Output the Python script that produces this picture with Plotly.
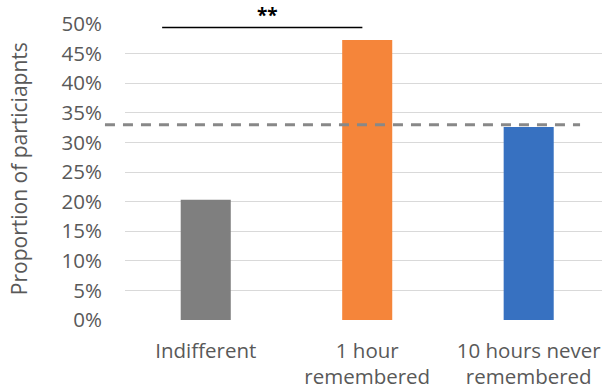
import plotly.graph_objects as go

categories = ["Indifferent", "1 hour<br>remembered", "10 hours never<br>remembered"]
values = [20.3, 47.3, 32.6]
colors = ["#7F7F7F", "#F5853A", "#3771C1"]
chance_level = 33.0
sig_level = 49.4
sig_label = "**"
y_ticks = list(range(0, 55, 5))
y_ticktext = [f"{t}%" for t in y_ticks]

fig = go.Figure()
fig.add_trace(go.Bar(
    x=[0, 1, 2], y=values, marker=dict(color=colors, line=dict(width=0)),
    width=0.31, showlegend=False, hoverinfo="skip",
))

font_family = "Open Sans, Lato, sans-serif"
fig.update_layout(
    width=602, height=390,
    margin=dict(l=125, r=0, t=24, b=70, autoexpand=False),
    paper_bgcolor="white", plot_bgcolor="white",
    font=dict(family=font_family, color="#595959", size=18),
    xaxis=dict(
        range=[-0.5, 2.454], tickmode="array", tickvals=[0, 1, 2], ticktext=categories,
        showgrid=False, zeroline=False, showline=False, ticks="", automargin=False,
        tickfont=dict(size=20.5, color="#595959"), ticklabelstandoff=16,
    ),
    yaxis=dict(
        range=[0, 50], tickmode="array", tickvals=y_ticks, ticktext=y_ticktext,
        showgrid=True, gridcolor="#D9D9D9", gridwidth=1, zeroline=False, showline=False,
        ticks="", tickfont=dict(size=20.5, color="#595959"), ticklabelstandoff=22, automargin=False,
    ),
    shapes=[
        dict(type="line", xref="paper", yref="y", x0=-0.042, x1=0.954, y0=chance_level, y1=chance_level,
             line=dict(color="#888888", width=3, dash="10px,8px")),
        dict(type="line", xref="x", yref="y", x0=-0.27, x1=0.97, y0=sig_level, y1=sig_level,
             line=dict(color="black", width=1.5)),
    ],
    annotations=[
        dict(text=f"<b>{sig_label}</b>", x=0.38, y=sig_level, xref="x", yref="y",
             yshift=13, showarrow=False, font=dict(size=19, color="black")),
        dict(text="Proportion of particiapnts", textangle=-90, xref="paper", yref="y",
             x=-0.222, y=25.5, xanchor="center", yanchor="middle", showarrow=False,
             font=dict(size=21, color="#595959")),
    ],
)

fig.write_html("out.html", config={"displayModeBar": False},
               post_script="document.body.style.margin='0';")
